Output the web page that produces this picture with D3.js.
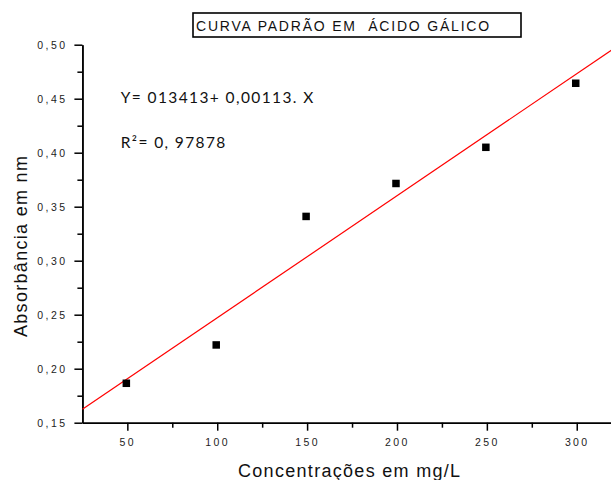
<!DOCTYPE html>
<html>
<head>
<meta charset="utf-8">
<script src="https://cdn.jsdelivr.net/npm/d3@7"></script>
<style>
  body { margin: 0; background: #fff; }
  svg { display: block; }
  .axis path, .axis line { stroke: #000; stroke-width: 1.5; }
  .axis text { font-family: 'Liberation Sans', Arial, sans-serif; font-size: 10.5px; fill: #222; letter-spacing: 2.4px; }
</style>
</head>
<body>
<svg></svg>
<script>
// dados
var concentracoes = [50, 100, 150, 200, 250, 300];
var absorbancias = [0.1865, 0.222, 0.341, 0.3715, 0.405, 0.4643];
var xTicks = [50, 100, 150, 200, 250, 300];
var xMinor = [75, 125, 175, 225, 275];
var yTicks = [0.15, 0.20, 0.25, 0.30, 0.35, 0.40, 0.45, 0.50];
var yMinor = [0.175, 0.225, 0.275, 0.325, 0.375, 0.425, 0.475];
// reta ajustada: Y = a + b.X
var intercepto = 0.13413;
var inclinacao = 0.00113;
var titulo = 'CURVA PADRÃO EM  ÁCIDO GÁLICO';
var equacao = 'Y= 013413+ 0,00113. X';
var r2 = 'R²= 0, 97878';

var width = 611,
  height = 480;

var svg = d3.select('svg')
  .attr('width', width)
  .attr('height', height);

// schalen
var x = d3.scaleLinear().domain([25, 320]).range([82.4, 82.4 + 295 * 1.7976]);
var y = d3.scaleLinear().domain([0.15, 0.50]).range([422.7, 44.7]);

var comma = function(d) { return d3.format('.2f')(d).replace('.', ','); };

// eixo x
svg.append('g')
  .attr('class', 'x axis')
  .attr('transform', 'translate(0,' + y(0.15) + ')')
  .call(d3.axisBottom(x).tickValues(xTicks).tickSize(8).tickSizeOuter(0).tickPadding(7.5).tickFormat(d3.format('d')));

svg.append('g')
  .attr('class', 'x axis minor')
  .attr('transform', 'translate(0,' + y(0.15) + ')')
  .call(d3.axisBottom(x).tickValues(xMinor).tickSize(5).tickSizeOuter(0).tickFormat(''));

// eixo y
svg.append('g')
  .attr('class', 'y axis')
  .attr('transform', 'translate(' + x(25) + ',0)')
  .call(d3.axisLeft(y).tickValues(yTicks).tickSize(8).tickSizeOuter(0).tickPadding(7).tickFormat(comma));

svg.append('g')
  .attr('class', 'y axis minor')
  .attr('transform', 'translate(' + x(25) + ',0)')
  .call(d3.axisLeft(y).tickValues(yMinor).tickSize(5).tickSizeOuter(0).tickFormat(''));

// reta de regressao
var dominio = x.domain();
svg.append('line')
  .attr('x1', x(dominio[0]))
  .attr('y1', y(intercepto + inclinacao * dominio[0]))
  .attr('x2', x(dominio[1]))
  .attr('y2', y(intercepto + inclinacao * dominio[1]))
  .attr('stroke', '#ff0000')
  .attr('stroke-width', 1.2);

// pontos
var s = 7.5;
svg.selectAll('.ponto')
  .data(concentracoes)
  .enter()
  .append('rect')
  .attr('class', 'ponto')
  .attr('x', function(d) { return x(d) - s / 2 - 1; })
  .attr('y', function(d, i) { return y(absorbancias[i]) - s / 2; })
  .attr('width', s)
  .attr('height', s)
  .attr('fill', '#000');

// titulo com caixa
svg.append('rect')
  .attr('x', 193)
  .attr('y', 13)
  .attr('width', 328)
  .attr('height', 24)
  .attr('fill', '#fff')
  .attr('stroke', '#000')
  .attr('stroke-width', 1.6);

svg.append('text')
  .attr('x', 196)
  .attr('y', 31)
  .style('font-family', "'Liberation Sans', Arial, sans-serif")
  .style('font-size', '14px')
  .style('letter-spacing', '1.8px')
  .style('white-space', 'pre')
  .attr('fill', '#111')
  .text(titulo);

// equacao e R2
svg.append('text')
  .attr('x', 120.7)
  .attr('y', 102.7)
  .style('font-family', 'Lato, sans-serif')
  .style('font-size', '15.5px')
  .style('letter-spacing', '1.4px')
  .attr('fill', '#111')
  .text(equacao);

svg.append('text')
  .attr('x', 120.7)
  .attr('y', 148.3)
  .style('font-family', 'Lato, sans-serif')
  .style('font-size', '15.5px')
  .style('letter-spacing', '1.4px')
  .attr('fill', '#111')
  .text(r2);

// titulos dos eixos
svg.append('text')
  .attr('transform', 'translate(27,337) rotate(-90)')
  .style('font-family', "'Liberation Sans', Arial, sans-serif")
  .style('font-size', '18px')
  .style('letter-spacing', '1.3px')
  .attr('fill', '#111')
  .text('Absorbância em nm');

svg.append('text')
  .attr('x', 238)
  .attr('y', 477)
  .style('font-family', "'Liberation Sans', Arial, sans-serif")
  .style('font-size', '18px')
  .style('letter-spacing', '1.3px')
  .attr('fill', '#111')
  .text('Concentrações em mg/L');
</script>
</body>
</html>
